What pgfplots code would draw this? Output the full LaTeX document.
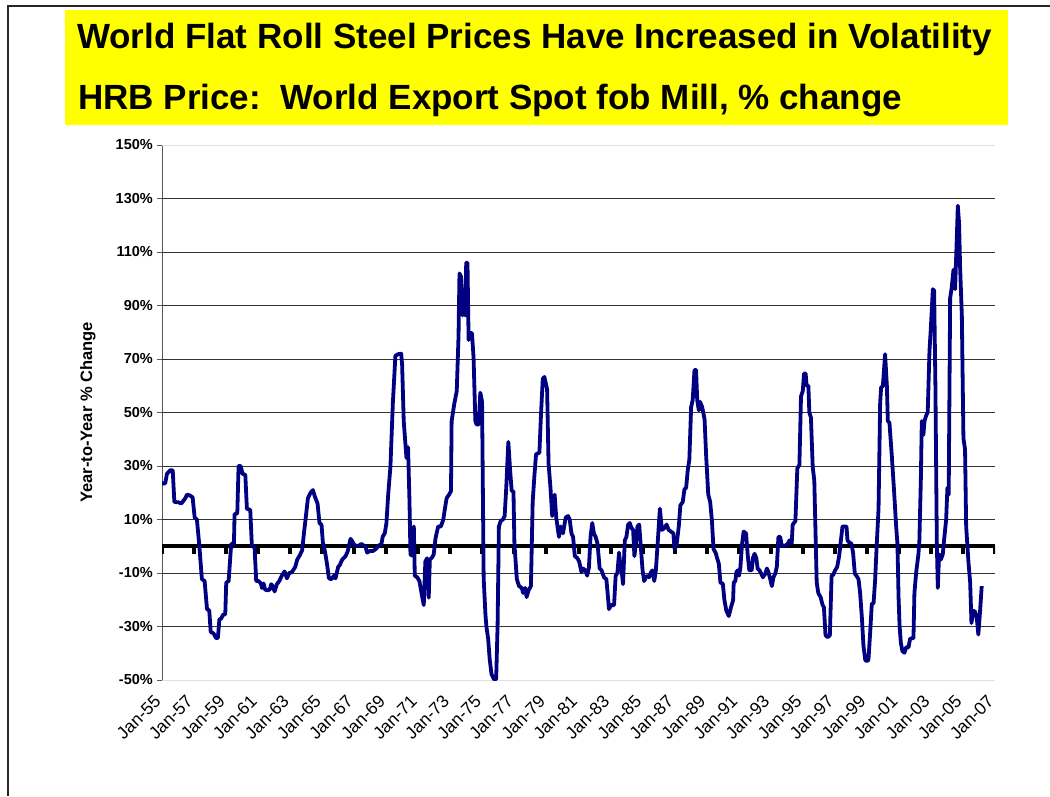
\documentclass[border=0pt]{standalone}
\usepackage{fontspec}
\setmainfont{Liberation Sans}
\usepackage{pgfplots}
\usetikzlibrary{calc}
\pgfplotsset{compat=1.18}
\definecolor{navyline}{RGB}{0,0,128}
\definecolor{titleyellow}{RGB}{255,255,0}
\begin{document}
\begin{tikzpicture}[x=1pt,y=1pt]
\path[use as bounding box] (0,0) rectangle (1050,796);
% frame
\draw[black!85, line width=1.5pt] (8,0) -- (8,790) -- (1050,790);
% title box
\fill[titleyellow] (65,671) rectangle (1008,786);
\node[anchor=base west, inner sep=0pt, font=\fontsize{35}{40}\selectfont\bfseries] at (77,747) {World Flat Roll Steel Prices Have Increased in Volatility};
\node[anchor=base west, inner sep=0pt, font=\fontsize{35}{40}\selectfont\bfseries] at (78,686) {HRB Price:\ \ World Export Spot fob Mill, \% change};
\begin{axis}[
  at={(162pt,116pt)}, anchor=south west,
  scale only axis, width=833pt, height=535pt,
  xmin=1955, xmax=2007, ymin=-50, ymax=150,
  axis lines*=left,
  x axis line style={black!12, line width=0.8pt},
  y axis line style={black!65, line width=1pt},
  xtick={1955,1957,...,2007},
  xticklabels={Jan-55,Jan-57,Jan-59,Jan-61,Jan-63,Jan-65,Jan-67,Jan-69,Jan-71,Jan-73,Jan-75,Jan-77,Jan-79,Jan-81,Jan-83,Jan-85,Jan-87,Jan-89,Jan-91,Jan-93,Jan-95,Jan-97,Jan-99,Jan-01,Jan-03,Jan-05,Jan-07},
  xtick style={draw=none},
  xticklabel style={font=\fontsize{17.5}{20}\selectfont, rotate=45, anchor=east, inner sep=0pt, xshift=-6pt},
  xticklabel shift=9pt,
  ytick={-50,-30,...,150},
  yticklabels={-50\%,-30\%,-10\%,10\%,30\%,50\%,70\%,90\%,110\%,130\%,150\%},
  yticklabel style={font=\fontsize{14.5}{17}\selectfont\bfseries, inner sep=0pt},
  yticklabel shift=4pt,
  ytick style={black!65, line width=0.8pt},
  tick align=outside, major tick length=5pt,
  ylabel={Year-to-Year \% Change},
  ylabel style={font=\fontsize{16.5}{19}\selectfont\bfseries, at={(axis description cs:-0.089,0.5)}, anchor=center},
]
\pgfplotsinvokeforeach{-30,-10,10,30,50,70,90,110,130}{
  \draw[black!80, line width=0.9pt] (axis cs:1955,#1) -- (axis cs:2007,#1);
}
\draw[black!12, line width=0.8pt] (axis cs:1955,150) -- (axis cs:2007,150);
\pgfplotsinvokeforeach{1955,1957,1959,1961,1963,1965,1967,1969,1971,1973,1975,1977,1979,1981,1983,1985,1987,1989,1991,1993,1995,1997,1999,2001,2003,2005,2007}{
  \fill[black] ($(axis cs:#1,0)+(-2pt,0pt)$) rectangle ($(axis cs:#1,0)+(2pt,-8pt)$);
}
\draw[black, line width=3.8pt] (axis cs:1955,0) -- (axis cs:2007,0);
\addplot[navyline, line width=3.8pt, line join=round, no markers] table[row sep=\\] {
x y\\
1955.00 23.5\\ 1955.20 23.5\\ 1955.31 27.1\\ 1955.52 28.4\\ 1955.67 28.4\\ 1955.77 16.6\\
1956.04 16.4\\ 1956.21 16.0\\ 1956.46 18.0\\ 1956.56 19.3\\ 1956.73 19.0\\ 1956.91 18.3\\
1957.04 10.7\\ 1957.18 10.0\\ 1957.33 0.2\\ 1957.49 -12.3\\ 1957.66 -13.0\\ 1957.81 -23.5\\
1957.95 -24.0\\ 1958.04 -32.0\\ 1958.22 -32.6\\ 1958.37 -34.3\\ 1958.49 -34.3\\ 1958.58 -27.4\\
1958.70 -27.0\\ 1958.80 -25.7\\ 1958.95 -25.4\\ 1959.01 -13.6\\ 1959.16 -13.0\\ 1959.32 0.9\\
1959.49 0.9\\ 1959.53 12.0\\ 1959.70 12.3\\ 1959.78 30.0\\ 1959.91 30.0\\ 1960.03 27.1\\
1960.20 26.7\\ 1960.30 14.0\\ 1960.51 13.6\\ 1960.61 0.2\\ 1960.78 -0.5\\ 1960.88 -13.0\\
1961.03 -13.0\\ 1961.17 -13.9\\ 1961.24 -15.6\\ 1961.34 -13.9\\ 1961.44 -16.2\\ 1961.59 -16.5\\
1961.72 -16.2\\ 1961.82 -14.2\\ 1961.90 -14.8\\ 1962.03 -16.9\\ 1962.17 -14.2\\ 1962.32 -13.0\\
1962.48 -11.0\\ 1962.65 -9.4\\ 1962.80 -12.0\\ 1962.94 -10.0\\ 1963.11 -9.7\\ 1963.32 -7.7\\
1963.44 -5.0\\ 1963.59 -3.5\\ 1963.75 -1.5\\ 1963.86 4.8\\ 1963.96 10.0\\ 1964.11 18.0\\
1964.27 20.0\\ 1964.42 21.0\\ 1964.54 18.6\\ 1964.71 16.0\\ 1964.83 8.7\\ 1964.96 8.0\\
1965.04 1.5\\ 1965.17 -1.8\\ 1965.31 -7.0\\ 1965.42 -12.0\\ 1965.58 -12.3\\ 1965.73 -11.0\\
1965.83 -12.0\\ 1966.00 -7.7\\ 1966.10 -7.0\\ 1966.25 -5.0\\ 1966.46 -3.7\\ 1966.60 -1.8\\
1966.77 2.8\\ 1966.91 1.5\\ 1967.04 0.2\\ 1967.29 0.2\\ 1967.45 0.9\\ 1967.60 0.2\\
1967.70 -0.2\\ 1967.81 -2.4\\ 1967.95 -1.8\\ 1968.16 -1.8\\ 1968.33 -1.1\\ 1968.53 0.2\\
1968.70 0.9\\ 1968.78 3.6\\ 1968.91 4.9\\ 1969.01 8.7\\ 1969.12 19.3\\ 1969.26 29.8\\
1969.41 53.4\\ 1969.57 71.2\\ 1969.74 71.8\\ 1969.93 72.0\\ 1969.99 67.9\\ 1970.09 46.8\\
1970.26 33.0\\ 1970.36 37.0\\ 1970.45 16.6\\ 1970.51 -3.1\\ 1970.61 -3.5\\ 1970.72 7.4\\
1970.78 -11.0\\ 1970.93 -11.6\\ 1971.07 -13.0\\ 1971.20 -17.5\\ 1971.34 -22.0\\ 1971.44 -5.7\\
1971.55 -4.5\\ 1971.65 -19.2\\ 1971.72 -5.0\\ 1971.86 -4.2\\ 1971.96 -3.1\\ 1972.07 2.8\\
1972.14 4.8\\ 1972.24 7.4\\ 1972.41 7.4\\ 1972.56 10.0\\ 1972.66 14.0\\ 1972.77 18.0\\
1972.92 19.3\\ 1973.04 20.6\\ 1973.08 46.8\\ 1973.25 53.4\\ 1973.40 58.0\\ 1973.51 78.4\\
1973.57 102.0\\ 1973.67 100.7\\ 1973.76 86.3\\ 1973.86 96.1\\ 1973.93 86.3\\ 1973.99 106.0\\
1974.07 106.0\\ 1974.14 77.1\\ 1974.24 79.7\\ 1974.35 79.7\\ 1974.45 70.5\\ 1974.56 46.8\\
1974.64 45.5\\ 1974.77 45.5\\ 1974.87 57.4\\ 1974.98 54.0\\ 1975.08 -12.0\\ 1975.19 -25.4\\
1975.25 -30.0\\ 1975.36 -34.6\\ 1975.46 -42.5\\ 1975.57 -47.8\\ 1975.72 -49.7\\ 1975.86 -49.7\\
1975.95 -29.4\\ 1976.03 7.4\\ 1976.14 9.4\\ 1976.28 10.0\\ 1976.39 11.3\\ 1976.49 21.9\\
1976.62 39.0\\ 1976.73 28.5\\ 1976.83 20.6\\ 1976.94 20.6\\ 1977.00 0.9\\ 1977.15 -12.3\\
1977.29 -14.9\\ 1977.46 -15.6\\ 1977.55 -17.5\\ 1977.67 -15.6\\ 1977.76 -19.0\\ 1977.88 -16.5\\
1978.03 -14.9\\ 1978.14 16.6\\ 1978.24 25.8\\ 1978.35 34.4\\ 1978.56 35.0\\ 1978.66 49.4\\
1978.77 62.6\\ 1978.87 63.3\\ 1979.04 58.7\\ 1979.13 31.0\\ 1979.25 21.9\\ 1979.36 11.3\\
1979.51 19.3\\ 1979.61 10.7\\ 1979.78 3.5\\ 1979.88 7.4\\ 1980.03 4.8\\ 1980.20 10.7\\
1980.35 11.3\\ 1980.45 10.0\\ 1980.56 4.8\\ 1980.66 3.6\\ 1980.77 -3.7\\ 1980.92 -4.4\\
1981.04 -5.7\\ 1981.19 -9.7\\ 1981.27 -8.3\\ 1981.44 -9.0\\ 1981.54 -11.0\\ 1981.65 -8.0\\
1981.75 3.5\\ 1981.86 8.7\\ 1981.96 4.8\\ 1982.07 3.5\\ 1982.19 0.9\\ 1982.32 -8.3\\
1982.44 -9.0\\ 1982.59 -11.6\\ 1982.74 -12.3\\ 1982.84 -19.0\\ 1982.90 -23.5\\ 1983.03 -22.0\\
1983.22 -22.0\\ 1983.32 -11.0\\ 1983.43 -10.0\\ 1983.53 -2.4\\ 1983.59 -5.7\\ 1983.70 -9.7\\
1983.78 -14.2\\ 1983.89 2.2\\ 1983.99 3.5\\ 1984.10 8.1\\ 1984.20 8.7\\ 1984.31 6.8\\
1984.41 6.1\\ 1984.49 -3.7\\ 1984.58 0.9\\ 1984.68 7.4\\ 1984.79 8.1\\ 1984.91 -1.8\\
1985.00 -9.0\\ 1985.10 -13.0\\ 1985.21 -11.6\\ 1985.31 -11.0\\ 1985.41 -11.6\\ 1985.52 -9.7\\
1985.62 -9.0\\ 1985.73 -13.0\\ 1985.83 -9.0\\ 1985.94 0.9\\ 1986.08 14.0\\ 1986.21 6.1\\
1986.36 6.8\\ 1986.50 8.1\\ 1986.63 6.1\\ 1986.77 5.5\\ 1986.92 4.8\\ 1987.00 -1.1\\
1987.13 0.9\\ 1987.26 7.4\\ 1987.36 15.3\\ 1987.51 16.6\\ 1987.61 21.2\\ 1987.72 21.9\\
1987.82 28.5\\ 1987.92 32.4\\ 1988.03 52.0\\ 1988.13 54.7\\ 1988.24 65.9\\ 1988.34 65.9\\
1988.41 54.7\\ 1988.51 50.8\\ 1988.59 54.0\\ 1988.72 52.0\\ 1988.87 47.5\\ 1988.97 33.7\\
1989.10 19.3\\ 1989.22 16.6\\ 1989.33 9.4\\ 1989.43 -1.1\\ 1989.56 -2.4\\ 1989.65 -4.4\\
1989.76 -6.5\\ 1989.86 -13.6\\ 1990.01 -14.0\\ 1990.11 -20.2\\ 1990.23 -24.1\\ 1990.38 -26.1\\
1990.52 -22.8\\ 1990.65 -20.2\\ 1990.69 -13.6\\ 1990.79 -13.0\\ 1990.86 -9.7\\ 1990.94 -9.0\\
1991.02 -11.0\\ 1991.10 -8.3\\ 1991.21 0.9\\ 1991.31 5.5\\ 1991.46 4.8\\ 1991.56 -3.0\\
1991.66 -9.0\\ 1991.81 -9.0\\ 1991.89 -4.4\\ 1991.99 -2.8\\ 1992.10 -4.4\\ 1992.18 -8.3\\
1992.30 -9.0\\ 1992.41 -10.3\\ 1992.51 -11.6\\ 1992.66 -10.3\\ 1992.76 -8.3\\ 1992.86 -9.7\\
1992.97 -12.3\\ 1993.07 -14.9\\ 1993.17 -11.6\\ 1993.28 -10.3\\ 1993.38 -7.7\\ 1993.48 3.5\\
1993.59 3.5\\ 1993.69 0.2\\ 1993.90 0.2\\ 1994.06 0.9\\ 1994.17 2.2\\ 1994.31 0.9\\
1994.37 8.1\\ 1994.54 9.4\\ 1994.66 29.1\\ 1994.79 30.4\\ 1994.89 56.0\\ 1995.00 58.0\\
1995.08 64.6\\ 1995.18 64.6\\ 1995.24 60.0\\ 1995.35 60.0\\ 1995.41 50.0\\ 1995.51 48.1\\
1995.62 29.8\\ 1995.72 24.5\\ 1995.87 -13.6\\ 1995.97 -17.5\\ 1996.11 -19.0\\ 1996.24 -22.0\\
1996.32 -22.8\\ 1996.42 -33.3\\ 1996.55 -34.0\\ 1996.69 -33.3\\ 1996.80 -11.0\\ 1996.90 -10.7\\
1997.02 -9.0\\ 1997.15 -7.7\\ 1997.27 -3.7\\ 1997.38 2.2\\ 1997.48 7.4\\ 1997.63 7.4\\
1997.73 7.4\\ 1997.79 2.2\\ 1997.89 1.5\\ 1998.04 0.9\\ 1998.14 -2.4\\ 1998.25 -10.3\\
1998.35 -11.0\\ 1998.48 -12.3\\ 1998.58 -17.5\\ 1998.69 -26.7\\ 1998.79 -37.3\\ 1998.90 -42.5\\
1999.00 -43.0\\ 1999.10 -42.5\\ 1999.21 -32.0\\ 1999.31 -21.5\\ 1999.42 -21.3\\ 1999.52 -12.3\\
1999.62 0.9\\ 1999.73 14.0\\ 1999.83 53.4\\ 1999.89 59.3\\ 2000.00 59.9\\ 2000.14 71.8\\
2000.25 60.0\\ 2000.31 46.8\\ 2000.41 46.2\\ 2000.56 33.7\\ 2000.70 20.6\\ 2000.83 7.4\\
2000.91 0.9\\ 2000.98 -19.0\\ 2001.04 -29.4\\ 2001.12 -36.0\\ 2001.22 -39.2\\ 2001.35 -39.8\\
2001.45 -37.8\\ 2001.60 -37.8\\ 2001.70 -34.6\\ 2001.81 -34.4\\ 2001.91 -34.4\\ 2001.97 -17.5\\
2002.08 -9.7\\ 2002.22 -3.0\\ 2002.28 2.2\\ 2002.37 24.5\\ 2002.43 46.8\\ 2002.53 41.6\\
2002.60 46.8\\ 2002.70 48.8\\ 2002.80 50.1\\ 2002.91 73.1\\ 2002.99 81.0\\ 2003.12 96.1\\
2003.20 95.5\\ 2003.28 60.0\\ 2003.37 0.9\\ 2003.43 -15.6\\ 2003.51 -3.0\\ 2003.62 -5.0\\
2003.74 -3.0\\ 2003.82 2.2\\ 2003.95 10.0\\ 2004.03 21.9\\ 2004.11 19.3\\ 2004.20 92.8\\
2004.30 96.8\\ 2004.41 103.4\\ 2004.51 96.1\\ 2004.68 127.3\\ 2004.76 120.4\\ 2004.82 104.7\\
2004.93 86.3\\ 2005.03 40.3\\ 2005.13 36.3\\ 2005.20 7.4\\ 2005.34 -5.7\\ 2005.45 -13.6\\
2005.53 -28.7\\ 2005.65 -24.1\\ 2005.76 -24.5\\ 2005.86 -26.7\\ 2005.96 -33.0\\ 2006.07 -24.1\\
2006.17 -14.9\\
};
\end{axis}
\end{tikzpicture}
\end{document}
